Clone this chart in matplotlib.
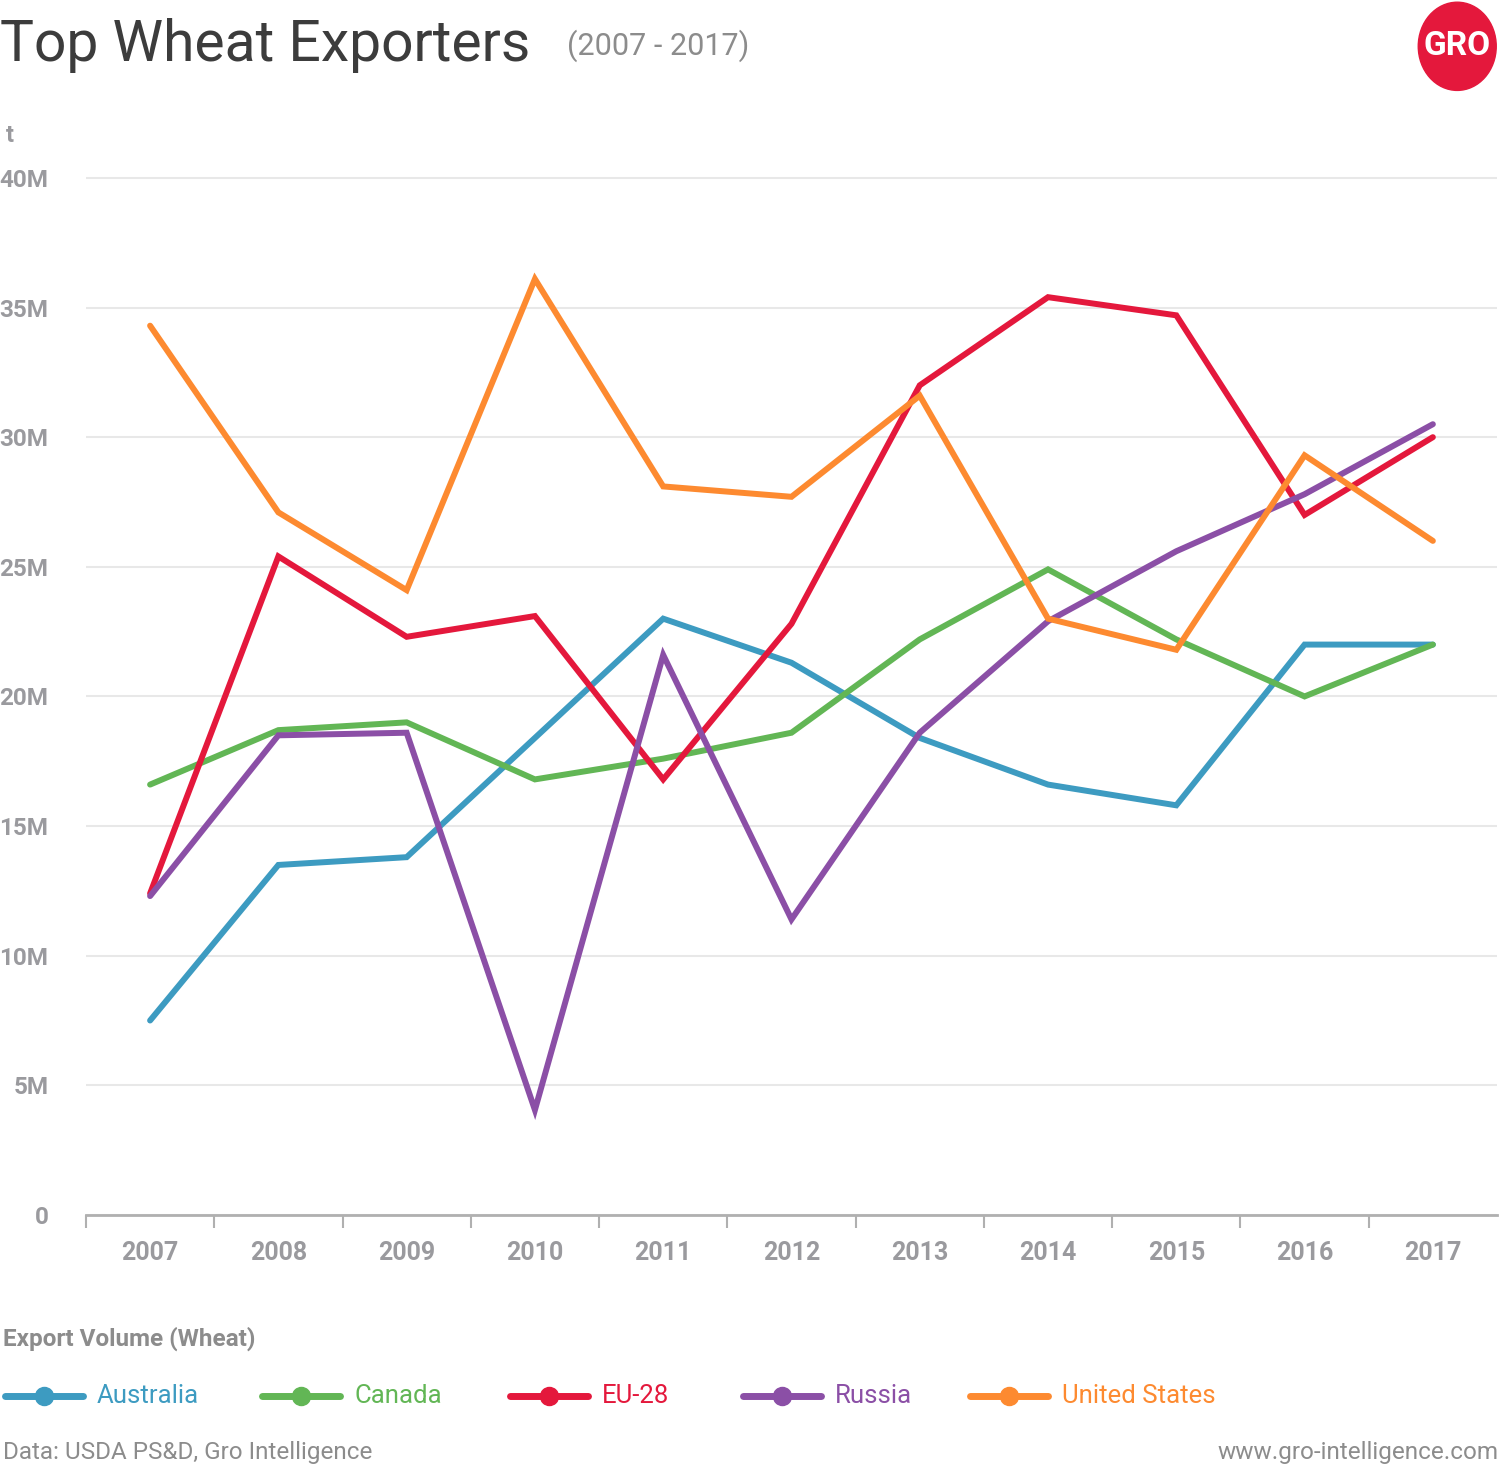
import numpy as np
import matplotlib.pyplot as plt
from matplotlib.lines import Line2D
from matplotlib.patches import Ellipse

plt.rcParams['font.family'] = ['Roboto', 'DejaVu Sans']

# datos (millones de toneladas)
years = ['2007', '2008', '2009', '2010', '2011', '2012', '2013', '2014', '2015', '2016', '2017']
australia = [7.5, 13.5, 13.8, 18.4, 23.0, 21.3, 18.4, 16.6, 15.8, 22.0, 22.0]
canada = [16.6, 18.7, 19.0, 16.8, 17.6, 18.6, 22.2, 24.9, 22.2, 20.0, 22.0]
eu28 = [12.4, 25.4, 22.3, 23.1, 16.8, 22.8, 32.0, 35.4, 34.7, 27.0, 30.0]
russia = [12.3, 18.5, 18.6, 4.05, 21.6, 11.4, 18.6, 22.9, 25.6, 27.8, 30.5]
usa = [34.3, 27.1, 24.1, 36.1, 28.1, 27.7, 31.6, 23.0, 21.8, 29.3, 26.0]

names = ['Australia', 'Canada', 'EU-28', 'Russia', 'United States']
series = [australia, canada, eu28, russia, usa]
colores = ['#3d9bc1', '#62b655', '#e4183c', '#8b4fa6', '#fd8a30']

yticks = [0, 5, 10, 15, 20, 25, 30, 35, 40]
ylabels = ['0', '5M', '10M', '15M', '20M', '25M', '30M', '35M', '40M']

gris = '#9a9a9e'

fig = plt.figure(figsize=(15, 14.7), dpi=100)
ax = fig.add_axes([0.0573, 0.1735, 0.9407, 0.709])

x = np.arange(len(years))
for vals, c in zip(series, colores):
	ax.plot(x, vals, color=c, lw=4.3, solid_capstyle='round', solid_joinstyle='miter', zorder=3)

ax.set_xlim(-0.5, 10.5)
ax.set_ylim(0, 40.2)

ax.set_yticks(yticks)
ax.set_yticklabels(ylabels, color=gris, fontsize=17.5, fontweight='bold')
ax.tick_params(axis='y', length=0, pad=27)
ax.grid(axis='y', color='#e8e8e8', lw=1.5, zorder=0)

ax.set_xticks(x)
ax.set_xticklabels(years, color=gris, fontsize=18, fontweight='bold')
ax.set_xticks(np.arange(-0.5, 10.0, 1.0), minor=True)
ax.tick_params(axis='x', which='major', length=0, pad=19)
ax.tick_params(axis='x', which='minor', length=9, width=1.5, color='#b0b0b0')

for s in ['top', 'right', 'left']:
	ax.spines[s].set_visible(False)
ax.spines['bottom'].set_color('#b0b0b0')
ax.spines['bottom'].set_linewidth(2)

# titulo
fig.text(0.0, 0.969, 'Top Wheat Exporters', fontsize=41, fontweight='normal', color='#3c3c3c', va='center')
fig.text(0.378, 0.969, '(2007 - 2017)', fontsize=22, color='#8c8c8c', va='center')
fig.text(0.004, 0.908, 't', fontsize=17, fontweight='bold', color=gris, va='center')

# logo
fig.add_artist(Ellipse((0.9715, 0.9685), 0.052, 0.06, transform=fig.transFigure, color='#e4183c'))
fig.text(0.9715, 0.9685, 'GRO', fontsize=24, fontweight='bold', color='white', ha='center', va='center')

# leyenda
fig.text(0.002, 0.089, 'Export Volume (Wheat)', fontsize=17.5, fontweight='bold', color='#8c8c8c', va='center')
lx = [5, 262, 510, 743, 970]
yl = 1 - 1396 / 1470
for px, n, c in zip(lx, names, colores):
	fig.add_artist(Line2D([px / 1500, (px + 78) / 1500], [yl, yl], transform=fig.transFigure,
		color=c, lw=5, solid_capstyle='round'))
	fig.add_artist(Line2D([(px + 39) / 1500], [yl], transform=fig.transFigure,
		color=c, marker='o', markersize=13))
	fig.text((px + 92) / 1500, yl, n, fontsize=18.5, color=c, va='center')

fig.text(0.002, 1 - 1453 / 1470, 'Data: USDA PS&D, Gro Intelligence', fontsize=17.5, color='#8c8c8c', va='center')
fig.text(0.999, 1 - 1453 / 1470, 'www.gro-intelligence.com', fontsize=17.5, color='#8c8c8c', va='center', ha='right')

fig.savefig('out.png', dpi=100)
